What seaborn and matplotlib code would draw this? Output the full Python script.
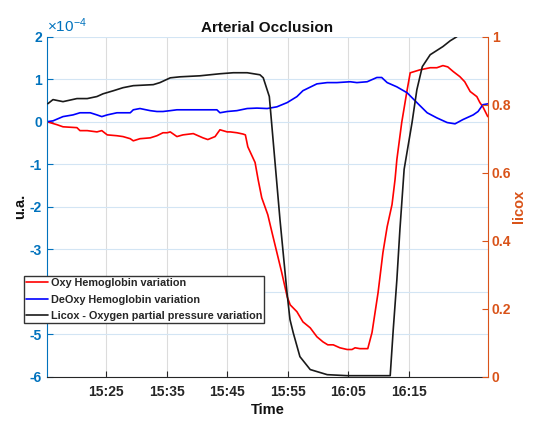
import numpy as np
import pandas as pd
import matplotlib
matplotlib.use('Agg')
import matplotlib.pyplot as plt
import matplotlib.dates as mdates
import seaborn as sns
from matplotlib.ticker import FuncFormatter, MultipleLocator

sns.set_theme(style='white')
plt.rcParams['font.family'] = ['Liberation Sans', 'DejaVu Sans']
plt.rcParams['font.weight'] = 'bold'
plt.rcParams['axes.unicode_minus'] = False
plt.rcParams['mathtext.fontset'] = 'custom'
plt.rcParams['mathtext.rm'] = 'Liberation Sans:weight=normal'
plt.rcParams['mathtext.it'] = 'Liberation Sans:italic:weight=normal'
plt.rcParams['mathtext.bf'] = 'Liberation Sans:bold'

# minutes after 15:00 and values (left axis in units of 1e-4)
oxy_t = [15.26, 16.9, 17.9, 20.2, 20.7, 21.9, 23.5, 24.3, 25.2, 26.8, 27.8, 29.0,
         29.5, 30.6, 32.3, 33.4, 34.4, 35.1, 35.6, 36.7, 37.7, 39.4, 41.0, 41.8,
         43.0, 43.8, 45.0, 45.5, 46.6, 47.6, 48.0, 48.4, 49.6, 50.1, 50.7, 51.7,
         52.4, 53.2, 54.0, 54.9, 55.4, 56.5, 57.5, 58.7, 59.8, 60.8, 61.6, 62.5,
         63.6, 64.8, 65.6, 66.1, 66.9, 68.2, 68.9, 69.4, 69.9, 70.7, 71.4, 72.2,
         72.7, 73.0, 73.8, 74.7, 75.2, 76.8, 78.5, 79.6, 80.6, 81.4, 82.3, 83.4,
         84.2, 85.1, 86.2, 86.7, 87.2, 88.0]
oxy_v = [0.0, -0.07, -0.12, -0.14, -0.21, -0.21, -0.24, -0.21, -0.31, -0.33, -0.35, -0.40,
         -0.45, -0.40, -0.38, -0.33, -0.26, -0.26, -0.24, -0.35, -0.31, -0.28, -0.38, -0.42,
         -0.35, -0.19, -0.24, -0.24, -0.26, -0.29, -0.31, -0.59, -0.96, -1.36, -1.79, -2.19,
         -2.61, -3.08, -3.55, -4.12, -4.31, -4.47, -4.71, -4.85, -5.06, -5.18, -5.25, -5.25,
         -5.32, -5.36, -5.36, -5.32, -5.34, -5.34, -4.96, -4.49, -4.02, -3.08, -2.47, -1.95,
         -1.36, -0.89, -0.02, 0.75, 1.15, 1.22, 1.27, 1.27, 1.32, 1.29, 1.18, 1.06,
         0.94, 0.71, 0.59, 0.45, 0.35, 0.12]

deoxy_t = [15.26, 16.25, 17.9, 19.55, 20.7, 22.4, 23.5, 24.3, 25.2, 26.8, 29.0, 29.5,
           30.6, 32.3, 33.4, 34.4, 35.6, 36.7, 39.4, 43.3, 43.8, 45.0, 46.6, 48.3,
           49.9, 51.6, 53.2, 54.9, 56.5, 57.5, 59.8, 61.5, 63.1, 65.3, 66.4, 68.1,
           69.7, 70.5, 71.4, 73.0, 74.7, 76.3, 78.0, 79.6, 81.3, 82.6, 83.9, 85.6,
           86.4, 87.2, 88.0]
deoxy_v = [0.0, 0.02, 0.12, 0.16, 0.21, 0.21, 0.16, 0.12, 0.16, 0.21, 0.21, 0.28,
           0.31, 0.26, 0.24, 0.24, 0.26, 0.28, 0.28, 0.28, 0.21, 0.24, 0.26, 0.31,
           0.32, 0.31, 0.35, 0.45, 0.59, 0.73, 0.89, 0.92, 0.92, 0.94, 0.92, 0.94,
           1.04, 1.04, 0.92, 0.82, 0.68, 0.45, 0.21, 0.09, -0.02, -0.05, 0.05, 0.16,
           0.24, 0.40, 0.42]

licox_t = [15.4, 16.25, 17.9, 20.2, 21.9, 23.5, 24.5, 26.2, 27.8, 29.5, 32.8, 33.9,
           35.6, 37.2, 40.5, 43.8, 46.0, 48.3, 50.4, 50.95, 51.95, 52.33, 53.71, 54.87,
           55.36, 55.9, 57.0, 58.7, 61.5, 64.8, 68.6, 71.9, 72.4, 73.0, 73.5, 74.2,
           75.5, 76.3, 77.2, 78.5, 80.6, 81.8, 82.9]
licox_v = [0.803, 0.815, 0.809, 0.818, 0.818, 0.824, 0.832, 0.841, 0.850, 0.856, 0.859, 0.865,
           0.879, 0.882, 0.885, 0.891, 0.894, 0.894, 0.888, 0.879, 0.824, 0.746, 0.462, 0.247,
           0.168, 0.129, 0.059, 0.021, 0.006, 0.003, 0.003, 0.003, 0.138, 0.285, 0.432, 0.61,
           0.747, 0.844, 0.912, 0.947, 0.971, 0.988, 1.0]

labels = ['Oxy Hemoglobin variation', 'DeOxy Hemoglobin variation',
          'Licox - Oxygen partial pressure variation']
x_ticks = ['15:25', '15:35', '15:45', '15:55', '16:05', '16:15']
right_ticks = [0, 0.2, 0.4, 0.6, 0.8, 1]
right_labels = ['0', '0.2', '0.4', '0.6', '0.8', '1']

BLUE_AX = '#0072BD'
ORANGE_AX = '#D95319'
DARK = '#262626'

day = pd.Timestamp('2020-01-01 15:00')


def to_time(minutes):
    return day + pd.to_timedelta(np.asarray(minutes), unit='m')


fig = plt.figure(figsize=(5.35, 4.22), dpi=100)
ax = fig.add_axes([46.7 / 535, 1 - 376.7 / 422, 441.6 / 535, 340 / 422])
ax2 = ax.twinx()

sns.lineplot(x=to_time(oxy_t), y=np.array(oxy_v) * 1e-4, ax=ax, color='red', lw=1.2, sort=False)
sns.lineplot(x=to_time(deoxy_t), y=np.array(deoxy_v) * 1e-4, ax=ax, color='blue', lw=1.2, sort=False)
sns.lineplot(x=to_time(licox_t), y=licox_v, ax=ax2, color='#1a1a1a', lw=1.2, sort=False)
handles = [ax.lines[0], ax.lines[1], ax2.lines[0]]

# left axis, labelled in units of 1e-4 like MATLAB
ax.set_ylim(-6e-4, 2e-4)
ax.yaxis.set_major_locator(MultipleLocator(1e-4))
ax.yaxis.set_major_formatter(FuncFormatter(lambda v, _: f'{int(round(v * 1e4))}'))
ax.text(0.0, 1.004, r'$\times10^{-4}$', transform=ax.transAxes, ha='left', va='bottom',
        fontsize=11, fontweight='normal', color=BLUE_AX)

# time axis
ax.set_xlim(to_time(15.21), to_time(88.09))
ax.set_xticks([pd.Timestamp('2020-01-01 ' + s) for s in x_ticks])
ax.xaxis.set_major_formatter(mdates.DateFormatter('%H:%M'))

# right axis
ax2.set_ylim(0, 1)
ax2.set_yticks(right_ticks)
ax2.set_yticklabels(right_labels)

ax.yaxis.grid(True, color='#d3e5f4', lw=0.8)
ax.xaxis.grid(True, color='#dcdcdc', lw=0.8)
ax.set_axisbelow(True)

for s in ['top', 'right']:
    ax.spines[s].set_visible(False)
for s in ['top', 'left', 'bottom']:
    ax2.spines[s].set_visible(False)
ax.spines['left'].set_color(BLUE_AX)
ax.spines['bottom'].set_color(DARK)
ax2.spines['right'].set_color(ORANGE_AX)
for sp in [ax.spines['left'], ax.spines['bottom'], ax2.spines['right']]:
    sp.set_linewidth(0.8)

ax.tick_params(axis='y', direction='in', length=4, width=0.8, colors=BLUE_AX, labelsize=10, pad=3.5, left=True)
ax.tick_params(axis='x', direction='in', length=4, width=0.8, colors=DARK, labelsize=10, pad=6, bottom=True)
ax2.tick_params(axis='y', direction='in', length=4, width=0.8, colors=ORANGE_AX, labelsize=10, pad=2.5, right=True)

ax.set_title('Arterial Occlusion', fontsize=11, fontweight='bold', color='#111111', pad=3.5)
ax.set_xlabel('Time', fontsize=10.5, fontweight='bold', color='#111111', labelpad=2.5)
ax.set_ylabel('u.a.', fontsize=10.5, fontweight='bold', color='#111111', labelpad=1.5)
ax2.set_ylabel('licox', fontsize=10.5, fontweight='bold', color=ORANGE_AX, labelpad=0.5)

leg = fig.legend(handles, labels, loc='upper left',
                 bbox_to_anchor=(24 / 535, 1 - 276 / 422), bbox_transform=fig.transFigure,
                 prop={'size': 7.8, 'weight': 'bold'}, frameon=True, fancybox=False,
                 edgecolor='#333333', framealpha=1, borderpad=0.2, handlelength=2.0,
                 handletextpad=0.25, labelspacing=0.6, borderaxespad=0)
leg.get_frame().set_linewidth(1.0)

fig.savefig('out.png', dpi=100)
